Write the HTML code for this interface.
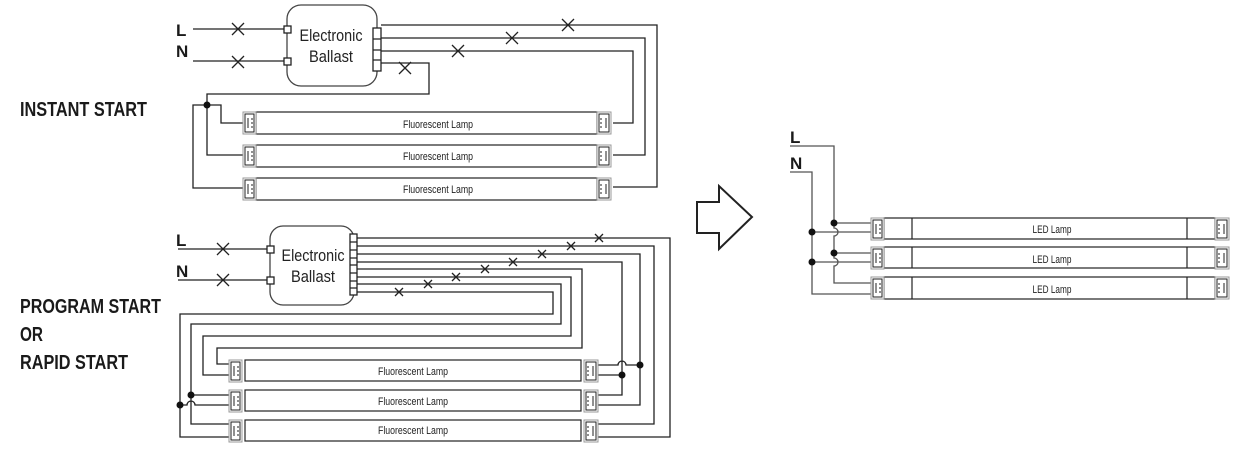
<!DOCTYPE html>
<html><head><meta charset="utf-8"><style>
html,body{margin:0;padding:0;background:#fff;}
svg{display:block}
text{font-family:"Liberation Sans",sans-serif;}
</style></head><body>
<svg width="1236" height="450" viewBox="0 0 1236 450" xmlns="http://www.w3.org/2000/svg">
<defs>
<g id="capL"><rect x="0" y="0" width="13" height="22" fill="#fff" stroke="#999" stroke-width="1"/><rect x="2" y="2" width="9" height="18" fill="none" stroke="#222" stroke-width="1"/><path d="M5 6v10M8 7h2M8 11h2M8 15h2" stroke="#222" stroke-width="1"/></g>
<g id="capR"><rect x="0" y="0" width="14" height="22" fill="#fff" stroke="#999" stroke-width="1"/><rect x="2" y="2" width="10" height="18" fill="none" stroke="#222" stroke-width="1"/><path d="M9 6v10M3 7h2M3 11h2M3 15h2" stroke="#222" stroke-width="1"/></g>
</defs>
<g font-weight="bold" fill="#1a1a1a" font-size="20">
<text x="20" y="116" textLength="127" lengthAdjust="spacingAndGlyphs">INSTANT START</text>
<text x="20" y="313" textLength="141" lengthAdjust="spacingAndGlyphs">PROGRAM START</text>
<text x="20" y="341" textLength="23" lengthAdjust="spacingAndGlyphs">OR</text>
<text x="20" y="369" textLength="108" lengthAdjust="spacingAndGlyphs">RAPID START</text>
<text x="176" y="36" font-size="17">L</text>
<text x="176" y="57" font-size="17">N</text>
<text x="176" y="246" font-size="17">L</text>
<text x="176" y="277" font-size="17">N</text>
<text x="790" y="143" font-size="17">L</text>
<text x="790" y="169" font-size="17">N</text>
</g>
<g fill="none" stroke="#222" stroke-width="1.3">
<path d="M193 29H285M193 61H285"/>
<path d="M232 23l12 12M244 23l-12 12M232 56l12 12M244 56l-12 12"/>
<rect x="287" y="5" width="90" height="81" rx="14" stroke="#444"/>
<rect x="284" y="26" width="7" height="7" fill="#fff"/>
<rect x="284" y="58" width="7" height="7" fill="#fff"/>
<rect x="373" y="28" width="8" height="43" fill="#fff"/>
<path d="M373 39h8M373 50h8M373 60h8"/>
<path d="M381 25H657V187H613M381 38H645V155H613M381 51H633V123H613M381 63H429V94H207V155H244M207 105H193V188H244M207 105H221V123H244"/>
<path d="M562 19l12 12M574 19l-12 12M506 32l12 12M518 32l-12 12M452 45l12 12M464 45l-12 12M399 62l12 12M411 62l-12 12"/>
<path d="M178 249H267M178 280H267"/>
<path d="M217 243l12 12M229 243l-12 12M217 274l12 12M229 274l-12 12"/>
<rect x="270" y="226" width="84" height="79" rx="13" stroke="#444"/>
<rect x="267" y="246" width="7" height="7" fill="#fff"/>
<rect x="267" y="277" width="7" height="7" fill="#fff"/>
<rect x="350" y="234" width="7" height="61" fill="#fff"/>
<path d="M350 242h7M350 250h7M350 258h7M350 265h7M350 273h7M350 281h7M350 288h7"/>
<path d="M357 238H670V437H597M357 246H654V424H597M357 254H640V405H597M357 262H622V395H597M597 375H622M597 365H618a4 4 0 0 1 8 0H640"/>
<path d="M357 269H582V348H217V364H229M357 277H571V336H203V375H229M357 284H561V324H191V424H229M357 292H553V314H180V437H229M191 395H229M180 405H187a4 4 0 0 1 8 0H229"/>
<path d="M595 234l8 8M603 234l-8 8M567 242l8 8M575 242l-8 8M538 250l8 8M546 250l-8 8M509 258l8 8M517 258l-8 8M481 265l8 8M489 265l-8 8M452 273l8 8M460 273l-8 8M424 280l8 8M432 280l-8 8M395 288l8 8M403 288l-8 8"/>
<path d="M697 202H719V186L752 217L719 249V233H697Z" stroke-width="2"/>
<path d="M790 146H834V228a4 4 0 0 1 0 8V258a4 4 0 0 1 0 8V283H872M834 223H872M834 253H872M790 172H812V294H872M812 232H872M812 262H872" stroke="#555"/>
</g>
<g fill="#111">
<circle cx="207" cy="105" r="3.5"/><circle cx="622" cy="375" r="3.5"/><circle cx="640" cy="365" r="3.5"/>
<circle cx="191" cy="395" r="3.5"/><circle cx="180" cy="405" r="3.5"/>
<circle cx="834" cy="223" r="3.5"/><circle cx="834" cy="253" r="3.5"/><circle cx="812" cy="232" r="3.5"/><circle cx="812" cy="262" r="3.5"/>
</g>
<g stroke="#222" stroke-width="1.2" fill="#fff">
<rect x="256" y="112" width="341" height="22"/><rect x="256" y="145" width="341" height="22"/><rect x="256" y="178" width="341" height="22"/>
<rect x="245" y="360" width="336" height="21"/><rect x="245" y="390" width="336" height="21"/><rect x="245" y="420" width="336" height="21"/>
<rect x="884" y="218" width="331" height="21"/><rect x="884" y="247" width="331" height="21"/><rect x="884" y="277" width="331" height="22"/>
<path d="M912 218v21M1187 218v21M912 247v21M1187 247v21M912 277v22M1187 277v22"/>
</g>
<use href="#capL" x="243" y="112"/><use href="#capL" x="243" y="145"/><use href="#capL" x="243" y="178"/>
<use href="#capR" x="597" y="112"/><use href="#capR" x="597" y="145"/><use href="#capR" x="597" y="178"/>
<use href="#capL" x="229" y="360"/><use href="#capL" x="229" y="390"/><use href="#capL" x="229" y="420"/>
<use href="#capR" x="584" y="360"/><use href="#capR" x="584" y="390"/><use href="#capR" x="584" y="420"/>
<use href="#capL" x="871" y="218"/><use href="#capL" x="871" y="247"/><use href="#capL" x="871" y="277"/>
<use href="#capR" x="1215" y="218"/><use href="#capR" x="1215" y="247"/><use href="#capR" x="1215" y="277"/>
<g fill="#222" font-size="11" text-anchor="middle" lengthAdjust="spacingAndGlyphs">
<text x="438" y="128" textLength="70" lengthAdjust="spacingAndGlyphs">Fluorescent Lamp</text><text x="438" y="160" textLength="70" lengthAdjust="spacingAndGlyphs">Fluorescent Lamp</text><text x="438" y="193" textLength="70" lengthAdjust="spacingAndGlyphs">Fluorescent Lamp</text>
<text x="413" y="375" textLength="70" lengthAdjust="spacingAndGlyphs">Fluorescent Lamp</text><text x="413" y="405" textLength="70" lengthAdjust="spacingAndGlyphs">Fluorescent Lamp</text><text x="413" y="434" textLength="70" lengthAdjust="spacingAndGlyphs">Fluorescent Lamp</text>
<text x="1052" y="233" textLength="39" lengthAdjust="spacingAndGlyphs">LED Lamp</text><text x="1052" y="263" textLength="39" lengthAdjust="spacingAndGlyphs">LED Lamp</text><text x="1052" y="293" textLength="39" lengthAdjust="spacingAndGlyphs">LED Lamp</text>
</g>
<g fill="#222" font-size="17" text-anchor="middle">
<text x="331" y="41" textLength="63" lengthAdjust="spacingAndGlyphs">Electronic</text><text x="331" y="62" textLength="44" lengthAdjust="spacingAndGlyphs">Ballast</text>
<text x="313" y="261" textLength="63" lengthAdjust="spacingAndGlyphs">Electronic</text><text x="313" y="282" textLength="44" lengthAdjust="spacingAndGlyphs">Ballast</text>
</g>
</svg>
</body></html>
